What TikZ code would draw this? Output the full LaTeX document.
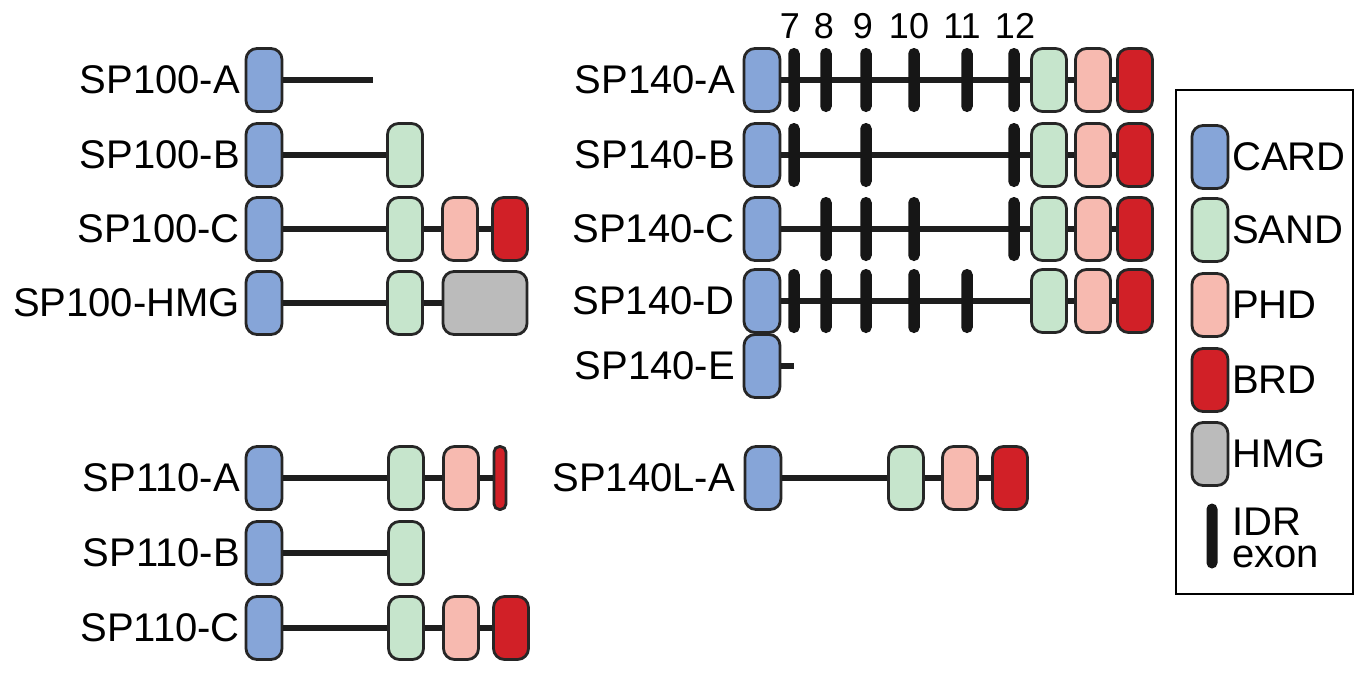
\documentclass[tikz,border=0pt]{standalone}
\usepackage{fontspec}
\setmainfont{Liberation Sans}
\definecolor{cardc}{HTML}{86A5D8}
\definecolor{sandc}{HTML}{C6E5CC}
\definecolor{phdc}{HTML}{F7BAB0}
\definecolor{brdc}{HTML}{D12027}
\definecolor{hmgc}{HTML}{BBBBBB}
\definecolor{edgec}{HTML}{262626}
\definecolor{barc}{HTML}{161616}
\definecolor{linec}{HTML}{1E1E1E}
\begin{document}
\begin{tikzpicture}[x=1pt,y=-1pt,
  dom/.style={rectangle, rounded corners=11pt, draw=edgec, line width=2.8pt, minimum height=63pt, inner sep=0pt},
  card/.style={dom, fill=cardc, minimum width=36pt},
  sand/.style={dom, fill=sandc, minimum width=35pt},
  phd/.style={dom, fill=phdc, minimum width=35pt},
  brd/.style={dom, fill=brdc, minimum width=35pt},
  brdthin/.style={dom, fill=brdc, minimum width=12pt, rounded corners=5.5pt},
  hmg/.style={dom, fill=hmgc, minimum width=84pt},
  exonbar/.style={rectangle, rounded corners=5.5pt, fill=barc, minimum width=11.5pt, minimum height=64pt, inner sep=0pt},
  link/.style={line width=6pt, draw=linec},
  lab/.style={font=\fontsize{40}{44}\selectfont, anchor=east, inner sep=0pt},
  leglab/.style={font=\fontsize{40}{44}\selectfont, anchor=west, inner sep=0pt},
  num/.style={font=\fontsize{36}{40}\selectfont, inner sep=0pt}
]
\useasboundingbox (0,0) rectangle (1361,675);

% ---------- SP100 ----------
\node[lab] (l100a) at (240,80) {SP100-A};
\node[card] (a100c) at (264,80) {};
\coordinate (a100e) at (373,80);
\draw[link] (a100c) -- (a100e);

\node[lab] (l100b) at (240,155) {SP100-B};
\node[card] (b100c) at (264,155) {};
\node[sand] (b100s) at (405,155) {};
\draw[link] (b100c) -- (b100s);

\node[lab] (l100c) at (240,229) {SP100-C};
\node[card] (c100c) at (264,229) {};
\node[sand] (c100s) at (405,229) {};
\node[phd] (c100p) at (460,229) {};
\node[brd] (c100b) at (510,229) {};
\draw[link] (c100c) -- (c100s);
\draw[link] (c100s) -- (c100p);
\draw[link] (c100p) -- (c100b);

\node[lab] (l100h) at (240,303) {SP100-HMG};
\node[card] (h100c) at (264,303) {};
\node[sand] (h100s) at (405,303) {};
\node[hmg] (h100h) at (485,303) {};
\draw[link] (h100c) -- (h100s);
\draw[link] (h100s) -- (h100h);

% ---------- SP110 ----------
\node[lab] (l110a) at (240,478) {SP110-A};
\node[card] (a110c) at (264,478) {};
\node[sand] (a110s) at (406,478) {};
\node[phd] (a110p) at (461,478) {};
\node[brdthin] (a110b) at (500,478) {};
\draw[link] (a110c) -- (a110s);
\draw[link] (a110s) -- (a110p);
\draw[link] (a110p) -- (a110b);

\node[lab] (l110b) at (240,553) {SP110-B};
\node[card] (b110c) at (264,553) {};
\node[sand] (b110s) at (406,553) {};
\draw[link] (b110c) -- (b110s);

\node[lab] (l110c) at (240,628) {SP110-C};
\node[card] (c110c) at (264,628) {};
\node[sand] (c110s) at (406,628) {};
\node[phd] (c110p) at (461,628) {};
\node[brd] (c110b) at (511,628) {};
\draw[link] (c110c) -- (c110s);
\draw[link] (c110s) -- (c110p);
\draw[link] (c110p) -- (c110b);

% ---------- SP140 exon numbers ----------
\node[num] (n7) at (790,26) {7};
\node[num] (n8) at (824,26) {8};
\node[num] (n9) at (863,26) {9};
\node[num] (n10) at (909,26) {10};
\node[num] (n11) at (962,26) {11};
\node[num] (n12) at (1015,26) {12};

% ---------- SP140-A ----------
\node[lab] (l140a) at (735,80) {SP140-A};
\node[card] (a140c) at (762,80) {};
\node[sand] (a140s) at (1049,80) {};
\node[phd] (a140p) at (1093,80) {};
\node[brd] (a140b) at (1135,80) {};
\draw[link] (a140c) -- (a140s);
\draw[link] (a140s) -- (a140p);
\draw[link] (a140p) -- (a140b);
\node[exonbar] (a140x7) at (794,80) {};
\node[exonbar] (a140x8) at (826,80) {};
\node[exonbar] (a140x9) at (866,80) {};
\node[exonbar] (a140x10) at (914,80) {};
\node[exonbar] (a140x11) at (967,80) {};
\node[exonbar] (a140x12) at (1014,80) {};

% ---------- SP140-B ----------
\node[lab] (l140b) at (735,155) {SP140-B};
\node[card] (b140c) at (762,155) {};
\node[sand] (b140s) at (1049,155) {};
\node[phd] (b140p) at (1093,155) {};
\node[brd] (b140b) at (1135,155) {};
\draw[link] (b140c) -- (b140s);
\draw[link] (b140s) -- (b140p);
\draw[link] (b140p) -- (b140b);
\node[exonbar] (b140x7) at (794,155) {};
\node[exonbar] (b140x9) at (866,155) {};
\node[exonbar] (b140x12) at (1014,155) {};

% ---------- SP140-C ----------
\node[lab] (l140c) at (735,229) {SP140-C};
\node[card] (c140c) at (762,229) {};
\node[sand] (c140s) at (1049,229) {};
\node[phd] (c140p) at (1093,229) {};
\node[brd] (c140b) at (1135,229) {};
\draw[link] (c140c) -- (c140s);
\draw[link] (c140s) -- (c140p);
\draw[link] (c140p) -- (c140b);
\node[exonbar] (c140x8) at (826,229) {};
\node[exonbar] (c140x9) at (866,229) {};
\node[exonbar] (c140x10) at (914,229) {};
\node[exonbar] (c140x12) at (1014,229) {};

% ---------- SP140-D ----------
\node[lab] (l140d) at (735,301) {SP140-D};
\node[card] (d140c) at (762,301) {};
\node[sand] (d140s) at (1049,301) {};
\node[phd] (d140p) at (1093,301) {};
\node[brd] (d140b) at (1135,301) {};
\draw[link] (d140c) -- (d140s);
\draw[link] (d140s) -- (d140p);
\draw[link] (d140p) -- (d140b);
\node[exonbar] (d140x7) at (794,301) {};
\node[exonbar] (d140x8) at (826,301) {};
\node[exonbar] (d140x9) at (866,301) {};
\node[exonbar] (d140x10) at (914,301) {};
\node[exonbar] (d140x11) at (967,301) {};

% ---------- SP140-E ----------
\node[lab] (l140e) at (735,366) {SP140-E};
\node[card] (e140c) at (762,366) {};
\coordinate (e140e) at (794,366);
\draw[link] (e140c) -- (e140e);

% ---------- SP140L-A ----------
\node[lab] (l140l) at (735,478) {SP140L-A};
\node[card] (l140c) at (763,478) {};
\node[sand] (l140s) at (906,478) {};
\node[phd] (l140p) at (960,478) {};
\node[brd] (l140b) at (1010,478) {};
\draw[link] (l140c) -- (l140s);
\draw[link] (l140s) -- (l140p);
\draw[link] (l140p) -- (l140b);

% ---------- Legend ----------
\node[draw=black, line width=2.6pt, minimum width=177pt, minimum height=504pt, inner sep=0pt] (legend) at (1264.5,342) {};
\node[card] (kcard) at (1210,157) {};
\node[leglab] (tcard) at (1232,157) {CARD};
\node[sand, minimum width=36pt] (ksand) at (1210,230) {};
\node[leglab] (tsand) at (1232,230) {SAND};
\node[phd, minimum width=36pt] (kphd) at (1210,305) {};
\node[leglab] (tphd) at (1232,305) {PHD};
\node[brd, minimum width=36pt] (kbrd) at (1210,380) {};
\node[leglab] (tbrd) at (1232,380) {BRD};
\node[hmg, minimum width=36pt] (khmg) at (1210,454) {};
\node[leglab] (thmg) at (1232,454) {HMG};
\node[exonbar, minimum width=11pt, minimum height=65pt] (kexon) at (1212,536) {};
\node[leglab, anchor=base west] (tidr) at (1232,535) {IDR};
\node[leglab, anchor=base west] (texon) at (1232,567) {exon};
\end{tikzpicture}
\end{document}
